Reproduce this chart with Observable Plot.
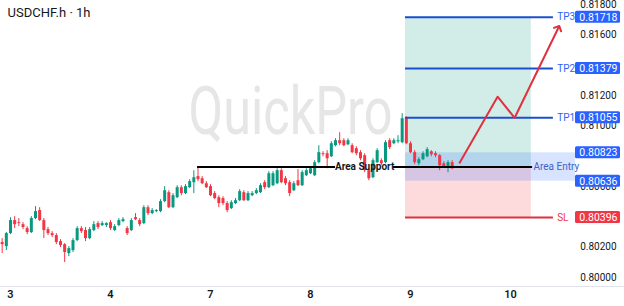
<!DOCTYPE html>
<html><head><meta charset="utf-8">
<script src="https://cdn.jsdelivr.net/npm/d3@7"></script>
<script src="https://cdn.jsdelivr.net/npm/@observablehq/plot@0.6"></script>
<style>
html,body{margin:0;padding:0;background:#fff;}
#chart{width:624px;height:306px;overflow:hidden;}
</style></head><body><div id="chart"></div>
<script>
// hourly candle index (0 = first hour of day 3)
const hours = d3.range(-2, 107);
const open = [
.80231,.80204,.80290,.80376,.80362,.80349,.80323,.80297,.80389,.80442,
.80376,.80316,.80290,.80277,.80237,.80217,.80158,.80178,.80244,.80323,
.80310,.80257,.80310,.80356,.80343,.80343,.80362,.80310,.80343,.80369,
.80323,.80310,.80395,.80376,.80356,.80461,.80422,.80435,.80435,.80501,
.80560,.80461,.80527,.80593,.80554,.80593,.80626,.80666,.80652,.80619,
.80600,.80554,.80527,.80521,.80488,.80455,.80488,.80507,.80560,.80507,
.80540,.80554,.80560,.80626,.80593,.80606,.80619,.80705,.80652,.80626,
.80573,.80639,.80606,.80672,.80685,.80672,.80758,.80817,.80817,.80797,
.80870,.80903,.80903,.80876,.80870,.80850,.80824,.80804,.80705,.80659,
.80758,.80771,.80758,.80903,.80883,.80896,.80890,.81054,.80883,.80824,
.80751,.80778,.80797,.80830,.80817,.80804,.80751,.80731,.80758];
const close = [
.80217,.80290,.80376,.80349,.80356,.80330,.80297,.80389,.80435,.80376,
.80310,.80290,.80277,.80231,.80211,.80165,.80191,.80244,.80323,.80303,
.80257,.80316,.80349,.80330,.80356,.80356,.80323,.80336,.80376,.80382,
.80290,.80376,.80382,.80349,.80461,.80422,.80442,.80442,.80501,.80573,
.80461,.80540,.80593,.80554,.80600,.80633,.80659,.80646,.80619,.80593,
.80540,.80521,.80488,.80488,.80442,.80494,.80507,.80567,.80507,.80554,
.80554,.80573,.80606,.80593,.80685,.80685,.80705,.80626,.80619,.80554,
.80619,.80606,.80692,.80705,.80718,.80758,.80824,.80811,.80784,.80883,
.80903,.80883,.80870,.80903,.80824,.80817,.80784,.80705,.80652,.80771,
.80837,.80751,.80890,.80857,.80903,.80903,.81048,.80883,.80824,.80758,
.80778,.80817,.80844,.80811,.80804,.80738,.80731,.80758,.80718];
const high = [
.80257,.80297,.80395,.80402,.80389,.80362,.80336,.80402,.80468,.80461,
.80389,.80330,.80303,.80290,.80250,.80224,.80204,.80257,.80336,.80336,
.80330,.80330,.80369,.80369,.80369,.80362,.80376,.80349,.80389,.80395,
.80336,.80389,.80422,.80389,.80474,.80474,.80455,.80448,.80514,.80600,
.80573,.80554,.80606,.80606,.80613,.80646,.80705,.80725,.80666,.80633,
.80613,.80567,.80540,.80534,.80501,.80507,.80521,.80580,.80573,.80567,
.80567,.80587,.80619,.80639,.80699,.80699,.80718,.80718,.80666,.80639,
.80633,.80712,.80705,.80718,.80731,.80771,.80870,.80830,.80837,.80896,
.80916,.80956,.80916,.80916,.80883,.80863,.80837,.80817,.80718,.80784,
.80850,.80784,.80903,.80916,.80916,.80936,.81081,.81061,.80896,.80837,
.80791,.80830,.80857,.80837,.80830,.80811,.80764,.80771,.80771];
const low = [
.80158,.80178,.80283,.80323,.80336,.80316,.80283,.80290,.80382,.80369,
.80257,.80277,.80264,.80217,.80198,.80099,.80138,.80165,.80237,.80290,
.80237,.80250,.80303,.80316,.80336,.80330,.80310,.80303,.80336,.80362,
.80277,.80303,.80376,.80336,.80349,.80409,.80415,.80428,.80428,.80494,
.80455,.80455,.80521,.80540,.80547,.80587,.80554,.80633,.80613,.80587,
.80534,.80514,.80461,.80474,.80428,.80448,.80481,.80501,.80501,.80501,
.80534,.80547,.80554,.80580,.80587,.80600,.80613,.80619,.80606,.80534,
.80567,.80600,.80600,.80666,.80679,.80666,.80751,.80797,.80718,.80791,
.80863,.80870,.80863,.80870,.80817,.80804,.80771,.80692,.80639,.80652,
.80751,.80738,.80751,.80844,.80876,.80883,.80883,.80876,.80817,.80745,
.80738,.80771,.80791,.80797,.80791,.80705,.80725,.80692,.80712];

// axes (price ticks hidden behind the level badges are omitted)
const dayTicks = [0, 24, 48, 72, 96, 120];
const dayLabels = ["3", "4", "7", "8", "9", "10"];
const priceTicks = [0.800, 0.802, 0.806, 0.810, 0.812, 0.816, 0.818];

// trade setup levels
const tpLabels = ["TP3", "TP2", "TP1"];
const tpValues = [0.81718, 0.81379, 0.81055];
const slValue = 0.80396;
const supportValue = 0.80730;
const entryZone = [0.80636, 0.80823];
// setup time range (candle index units)
const boxRange = [94.8, 125.0];
const levelLineEnd = 130.3;
const zoneEnd = 135.6;
const supportSegments = [[44.9, 78.0], [91.9, 125.3]];
// projected path
const pathX = [107.8, 116.9, 121.0, 131.5];
const pathY = [0.80758, 0.81193, 0.81054, 0.81648];

const UP = "#089981", DOWN = "#f23645", BLUE = "#2962ff", LINEBLUE = "#1c4fd0", RED = "#f23645";
const X_DOMAIN = [-2.4, 147.36];
const Y_DOMAIN = [0.79941, 0.81828];
const BADGE_X1 = 135.6, BADGE_X2 = 146.4, BADGE_CX = 141.1, LEVEL_LABEL_X = 131.2, ENTRY_LABEL_X = 125.5;

const candles = hours.map((i, k) => ({i, open: open[k], close: close[k], high: high[k], low: low[k]}));
const levels = tpLabels.map((l, k) => ({label: l, value: tpValues[k], color: LINEBLUE, text: BLUE}))
  .concat([{label: "SL", value: slValue, color: "#e0313f", text: RED}]);
const badges = tpValues.map(v => ({value: v, color: BLUE}))
  .concat([{value: entryZone[1], color: BLUE}, {value: entryZone[0], color: BLUE}, {value: slValue, color: RED}]);
const path = pathX.map((x, k) => ({x, y: pathY[k]}));
const col = d => d.close >= d.open ? UP : DOWN;

const chart = Plot.plot({
  width: 624, height: 306,
  marginLeft: 0, marginRight: 0, marginTop: 0, marginBottom: 20,
  style: {fontFamily: "Roboto, 'Noto Sans', sans-serif", fontSize: "10px", color: "#131722", background: "#fff"},
  x: {domain: X_DOMAIN},
  y: {domain: Y_DOMAIN, axis: null},
  marks: [
    Plot.text(["QuickPro"], {x: 67.2, y: 0.81084, text: d => d, fontSize: 66, fill: "#e6e6e6", textAnchor: "middle", lineAnchor: "middle"}),
    Plot.rect([0], {x1: boxRange[0], x2: boxRange[1], y1: supportValue, y2: tpValues[0], fill: UP, fillOpacity: 0.18}),
    Plot.rect([0], {x1: boxRange[0], x2: boxRange[1], y1: slValue, y2: supportValue, fill: RED, fillOpacity: 0.18}),
    Plot.rect([0], {x1: boxRange[0], x2: zoneEnd, y1: entryZone[0], y2: entryZone[1], fill: BLUE, fillOpacity: 0.18}),
    Plot.ruleY([Y_DOMAIN[0]], {stroke: "#e0e3eb"}),
    Plot.ruleX(candles, {x: "i", y1: "low", y2: "high", stroke: col, strokeWidth: 1}),
    Plot.ruleX(candles, {x: "i", y1: "open", y2: "close", stroke: col, strokeWidth: 3}),
    Plot.ruleY(levels, {y: "value", x1: boxRange[0], x2: levelLineEnd, stroke: "color", strokeWidth: 2}),
    Plot.text(levels, {x: LEVEL_LABEL_X, y: "value", text: "label", fill: "text", textAnchor: "start", fontSize: 10}),
    Plot.ruleY(supportSegments, {y: supportValue, x1: d => d[0], x2: d => d[1], stroke: "#000", strokeWidth: 2}),
    Plot.text(["Area Support"], {x: 85.0, y: supportValue, text: d => d, fontWeight: "bold", fontSize: 10, fill: "#131722"}),
    Plot.text(["Area Entry"], {x: ENTRY_LABEL_X, y: supportValue, text: d => d, textAnchor: "start", fontSize: 10, fill: "#3d62c4"}),
    Plot.line(path, {x: "x", y: "y", stroke: "#e0313f", strokeWidth: 2, markerEnd: "arrow"}),
    Plot.text(priceTicks, {x: BADGE_CX, y: d => d, text: d => d.toFixed(5), fontSize: 10, fill: "#131722"}),
    Plot.rect(badges, {x1: BADGE_X1, x2: BADGE_X2, y1: "value", y2: "value", insetTop: -6, insetBottom: -6, fill: "color", rx: 1.5}),
    Plot.text(badges, {x: BADGE_CX, y: "value", text: d => d.value.toFixed(5), fill: "#fff", fontSize: 10.5}),
    Plot.axisX({ticks: dayTicks, tickFormat: d => dayLabels[dayTicks.indexOf(d)], tickSize: 0, tickPadding: 4, fontSize: 11, fontWeight: 600, label: null}),
    Plot.text(["USDCHF.h · 1h"], {frameAnchor: "top-left", dx: 7, dy: 7, text: d => d, textAnchor: "start", lineAnchor: "top", fontSize: 13, fill: "#131722"})
  ]
});
document.getElementById("chart").appendChild(chart);
d3.select(chart).selectAll("text").filter(function(){ return this.textContent === "QuickPro"; })
  .attr("textLength", 204).attr("lengthAdjust", "spacingAndGlyphs");
</script></body></html>
